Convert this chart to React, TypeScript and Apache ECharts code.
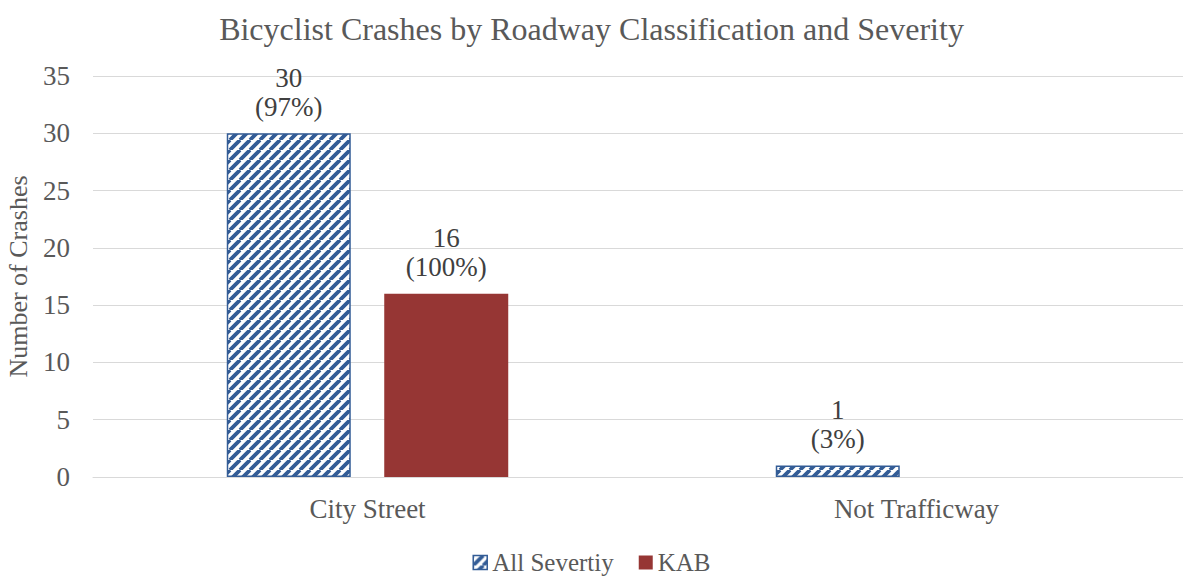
import React, { useEffect, useRef } from "react";
import * as echarts from "echarts";

const categories = ["City Street", "Not Trafficway"];
const allSeverity = [30, 1];
const allSeverityPct = ["97%", "3%"];
const kab = [16, null];
const kabPct = ["100%", ""];
const yTicks = { min: 0, max: 35, interval: 5 };

const FONT = "'Liberation Serif', 'Times New Roman', serif";
const BLUE = "#335C96";
const RED = "#963634";
const TEXT = "#595959";

function makeHatch(): string {
  const c = document.createElement("canvas");
  const s = 10;
  c.width = s;
  c.height = s;
  const ctx = c.getContext("2d")!;
  ctx.fillStyle = "#ffffff";
  ctx.fillRect(0, 0, s, s);
  ctx.strokeStyle = BLUE;
  ctx.lineWidth = 3.8;
  ctx.beginPath();
  for (let k = -1; k <= 1; k++) {
    ctx.moveTo(k * s, s);
    ctx.lineTo(k * s + s, 0);
  }
  ctx.stroke();
  return c.toDataURL();
}

export default function App() {
  const ref = useRef<HTMLDivElement>(null);
  useEffect(() => {
    const chart = echarts.init(ref.current!, null, { renderer: "svg" });
    const hatch = { image: makeHatch(), repeat: "repeat" } as any;
    const labelStyle = {
      show: true,
      position: "top",
      distance: 12,
      fontFamily: FONT,
      fontSize: 27,
      lineHeight: 29,
      color: "#404040",
    };
    chart.setOption({
      animation: false,
      title: {
        text: "Bicyclist Crashes by Roadway Classification and Severity",
        left: "center",
        top: 8,
        textStyle: { fontFamily: FONT, fontSize: 32, fontWeight: "normal", color: TEXT },
      },
      legend: {
        top: 550,
        left: "center",
        padding: 0,
        itemWidth: 14,
        itemHeight: 14,
        itemGap: 25,
        textStyle: { fontFamily: FONT, fontSize: 25, lineHeight: 25, color: TEXT },
        data: [
          { name: "All Severtiy", icon: "rect", itemStyle: { color: hatch, borderColor: BLUE, borderWidth: 1.5 } },
          { name: "KAB", icon: "rect" },
        ],
      },
      grid: { left: 93, right: -8, top: 76, bottom: 99, containLabel: false, outerBoundsMode: "none" },
      xAxis: {
        type: "category",
        data: categories,
        axisTick: { show: false },
        axisLine: { lineStyle: { color: "#d9d9d9" } },
        axisLabel: { fontFamily: FONT, fontSize: 27, color: TEXT, margin: 18 },
      },
      yAxis: {
        type: "value",
        min: yTicks.min,
        max: yTicks.max,
        interval: yTicks.interval,
        name: "Number of Crashes",
        nameLocation: "middle",
        nameGap: 62,
        nameMoveOverlap: false,
        nameTextStyle: { fontFamily: FONT, fontSize: 26, color: TEXT },
        axisLabel: { fontFamily: FONT, fontSize: 27, color: TEXT, margin: 23 },
        splitLine: { lineStyle: { color: "#d9d9d9" } },
      },
      series: [
        {
          name: "All Severtiy",
          type: "bar",
          data: allSeverity,
          barWidth: 124,
          barGap: "27%",
          itemStyle: { color: hatch, borderColor: BLUE, borderWidth: 1.5 },
          label: {
            ...labelStyle,
            formatter: (p: any) => `${p.value}\n(${allSeverityPct[p.dataIndex]})`,
          },
        },
        {
          name: "KAB",
          type: "bar",
          data: kab,
          barWidth: 124,
          itemStyle: { color: RED },
          label: {
            ...labelStyle,
            formatter: (p: any) => `${p.value}\n(${kabPct[p.dataIndex]})`,
          },
        },
      ],
    });
    return () => chart.dispose();
  }, []);
  return (
    <div
      ref={ref}
      style={{ position: "absolute", left: 0, top: 0, width: 1183, height: 576, overflow: "hidden" }}
    />
  );
}
